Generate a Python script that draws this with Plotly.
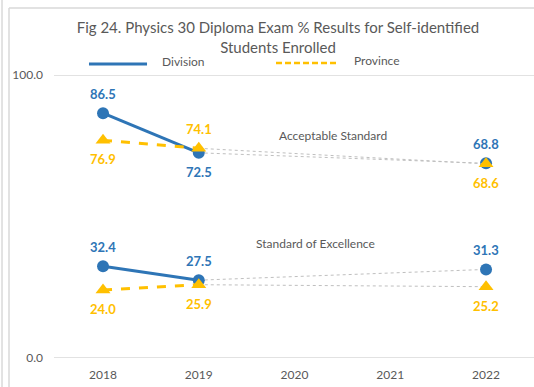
import plotly.graph_objects as go

years = [2018, 2019, 2020, 2021, 2022]

# Acceptable Standard (%)
div_acc = [86.5, 72.5, None, None, 68.8]
prov_acc = [76.9, 74.1, None, None, 68.6]
# Standard of Excellence (%)
div_exc = [32.4, 27.5, None, None, 31.3]
prov_exc = [24.0, 25.9, None, None, 25.2]

# label placement per point: +1 above the marker, -1 below
div_acc_side = [1, -1, None, None, 1]
prov_acc_side = [-1, 1, None, None, -1]
div_exc_side = [1, 1, None, None, 1]
prov_exc_side = [-1, -1, None, None, -1]

BLUE = "#2E75B6"
ORANGE = "#FFC000"
GREY_TXT = "#595959"
GRID = "#D9D9D9"
FONT = "Lato"

fig = go.Figure()

# horizontal gridlines at the axis limits
for gy in (0, 100):
    fig.add_shape(type="line", xref="paper", yref="y", x0=0, x1=1, y0=gy, y1=gy,
                  line=dict(color=GRID, width=1.5), layer="below")


def add_series(vals, color, symbol, size, dash):
    xs = [x for x, v in zip(years, vals) if v is not None]
    ys = [v for v in vals if v is not None]
    # dotted connector across the years without results
    fig.add_trace(go.Scatter(x=xs[1:], y=ys[1:], mode="lines",
                             line=dict(color="#BFBFBF", width=1, dash="dot"),
                             hoverinfo="skip", showlegend=False))
    # solid / dashed segment between consecutive years
    fig.add_trace(go.Scatter(x=xs[:2], y=ys[:2], mode="lines",
                             line=dict(color=color, width=3, dash=dash),
                             showlegend=False))
    fig.add_trace(go.Scatter(x=xs, y=ys, mode="markers",
                             marker=dict(color=color, symbol=symbol, size=size),
                             showlegend=False))


def add_labels(vals, sides, color):
    for x, v, s in zip(years, vals, sides):
        if v is None:
            continue
        fig.add_annotation(x=x, y=v, text=f"{v:.1f}", showarrow=False,
                           yshift=19 * s, xanchor="center", yanchor="middle",
                           font=dict(family=FONT, size=13, color=color, weight="bold"))


add_series(div_acc, BLUE, "circle", 12, "solid")
add_series(div_exc, BLUE, "circle", 12, "solid")
add_series(prov_acc, ORANGE, "triangle-up", 13, "dash")
add_series(prov_exc, ORANGE, "triangle-up", 13, "dash")

add_labels(div_acc, div_acc_side, BLUE)
add_labels(prov_acc, prov_acc_side, ORANGE)
add_labels(div_exc, div_exc_side, BLUE)
add_labels(prov_exc, prov_exc_side, ORANGE)

fig.add_annotation(x=2020.40, y=78.8, text="Acceptable Standard", showarrow=False,
                   font=dict(family=FONT, size=12, color=GREY_TXT))
fig.add_annotation(x=2020.22, y=40.6, text="Standard of Excellence", showarrow=False,
                   font=dict(family=FONT, size=12, color=GREY_TXT))

# hand-drawn legend
fig.add_shape(type="line", xref="paper", yref="paper", x0=0.0729, x1=0.1938,
              y0=1.0389, y1=1.0389, line=dict(color=BLUE, width=3))
fig.add_annotation(xref="paper", yref="paper", x=0.2208, y=1.046, text="Division",
                   showarrow=False, xanchor="left", yanchor="middle",
                   font=dict(family=FONT, size=12, color=GREY_TXT))
fig.add_shape(type="line", xref="paper", yref="paper", x0=0.4625, x1=0.5896,
              y0=1.0424, y1=1.0424, line=dict(color=ORANGE, width=2.5, dash="6px,3px"))
fig.add_annotation(xref="paper", yref="paper", x=0.6208, y=1.053, text="Province",
                   showarrow=False, xanchor="left", yanchor="middle",
                   font=dict(family=FONT, size=12, color=GREY_TXT))

# chart frame
fig.add_shape(type="line", xref="paper", yref="paper", x0=-0.09375, x1=-0.09375,
              y0=-0.2, y1=1.2367, line=dict(color=GRID, width=1.5))
fig.add_shape(type="line", xref="paper", yref="paper", x0=-0.09375, x1=1.1,
              y0=1.2367, y1=1.2367, line=dict(color=GRID, width=1.5))
fig.add_shape(type="line", xref="paper", yref="paper", x0=-0.1083, x1=-0.1083,
              y0=-0.2, y1=1.3, line=dict(color=GRID, width=1.5))

fig.update_layout(
    width=534, height=387,
    margin=dict(l=54, r=0, t=75, b=29),
    paper_bgcolor="white", plot_bgcolor="white",
    showlegend=False,
    title=dict(text="Fig 24. Physics 30 Diploma Exam % Results for Self-identified<br>Students Enrolled",
               x=278 / 534, xanchor="center", y=1 - 33 / 387, yanchor="middle",
               font=dict(family=FONT, size=15, color=GREY_TXT)),
    xaxis=dict(range=[2017.488, 2022.501], tickmode="array", tickvals=years,
               ticktext=[str(y) for y in years], showgrid=False, zeroline=False,
               showline=False, ticks="", ticklabelstandoff=8,
               tickfont=dict(family=FONT, size=12, color=GREY_TXT)),
    yaxis=dict(range=[0, 100], tickvals=[0, 100], ticktext=["0.0", "100.0"],
               showgrid=False, zeroline=False,
               ticklabelstandoff=10,
               tickfont=dict(family=FONT, size=12, color=GREY_TXT)),
)

fig.write_html("out.html")
